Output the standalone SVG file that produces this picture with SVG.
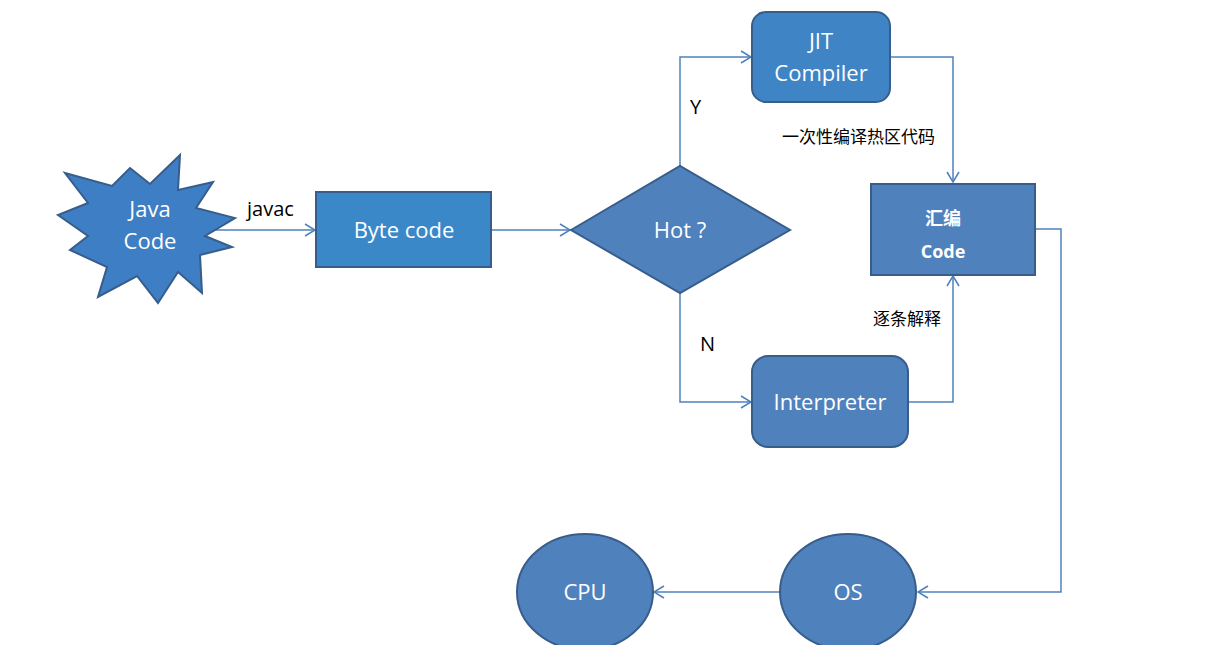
<svg xmlns="http://www.w3.org/2000/svg" width="1225" height="663" viewBox="0 0 1225 663">
<defs>
<style>
.node{fill:#4f81bd;stroke:#385d8a;stroke-width:2}
.lbl{fill:#ffffff;font-family:"Open Sans","Liberation Sans",sans-serif;font-size:22px;text-anchor:middle}
.blbl{fill:#ffffff;font-family:"Open Sans","Noto Sans CJK SC",sans-serif;font-size:18px;font-weight:bold;text-anchor:middle}
.edge{fill:none;stroke:#4f81bd;stroke-width:1.5}
.elbl{fill:#000000;font-family:"Open Sans","Liberation Sans",sans-serif;font-size:20px}
.cjk{fill:#000000;font-family:"Noto Sans CJK SC",sans-serif;font-size:17px}
</style>
<marker id="arr" markerWidth="14" markerHeight="14" refX="12" refY="7" orient="auto" markerUnits="userSpaceOnUse">
<polyline points="2,1 12,7 2,13" fill="none" stroke="#4f81bd" stroke-width="1.5"/>
</marker>
</defs>
<rect width="1225" height="663" fill="#ffffff"/>
<g id="connectors">
<line class="edge" x1="208" y1="230" x2="315" y2="230" marker-end="url(#arr)"/>
<line class="edge" x1="491" y1="230" x2="570" y2="230" marker-end="url(#arr)"/>
<polyline class="edge" points="680,166 680,57 751,57" marker-end="url(#arr)"/>
<polyline class="edge" points="890,57 953,57 953,182" marker-end="url(#arr)"/>
<polyline class="edge" points="680,293 680,402 751,402" marker-end="url(#arr)"/>
<polyline class="edge" points="908,402 953,402 953,276" marker-end="url(#arr)"/>
<polyline class="edge" points="1035,229 1061,229 1061,592 918,592" marker-end="url(#arr)"/>
<line class="edge" x1="780" y1="592" x2="654" y2="592" marker-end="url(#arr)"/>
<text class="elbl" x="247" y="216">javac</text>
<text class="elbl" x="690" y="114">Y</text>
<text class="elbl" x="700" y="351">N</text>
<text class="cjk" x="782" y="143">一次性编译热区代码</text>
<text class="cjk" x="873" y="325">逐条解释</text>
</g>
<g id="java-code">
<polygon class="node" style="fill:#3d7ec4" points="65,173 112,186 130,168 150,184 180,155 178,190 213,182 196,208 235,218 205,236 232,247 200,255 202,293 178,272 158,303 137,276 98,297 107,267 70,250 88,236 58,215 88,203"/>
<text class="lbl" x="150" y="217" font-size="21">Java</text>
<text class="lbl" x="150" y="249" font-size="21">Code</text>
</g>
<g id="byte-code">
<rect class="node" style="fill:#3b88c9" x="316" y="192" width="175" height="75"/>
<text class="lbl" x="404" y="238">Byte code</text>
</g>
<g id="hot">
<polygon class="node" points="571,230 680,166 790,230 680,293"/>
<text class="lbl" x="680" y="238">Hot ?</text>
</g>
<g id="jit">
<rect class="node" style="fill:#3f85c6" x="752" y="12" width="138" height="90" rx="14"/>
<text class="lbl" x="821" y="49">JIT</text>
<text class="lbl" x="821" y="81">Compiler</text>
</g>
<g id="asm-code">
<rect class="node" x="871" y="184" width="164" height="91"/>
<text class="blbl" x="943" y="225">汇编</text>
<text class="blbl" x="943" y="258">Code</text>
</g>
<g id="interpreter">
<rect class="node" x="752" y="356" width="156" height="91" rx="16"/>
<text class="lbl" x="830" y="410">Interpreter</text>
</g>
<g id="os">
<ellipse class="node" cx="848" cy="592" rx="68" ry="58"/>
<text class="lbl" x="848" y="600">OS</text>
</g>
<g id="cpu">
<ellipse class="node" cx="585" cy="592" rx="68" ry="58"/>
<text class="lbl" x="585" y="600">CPU</text>
</g>
<rect x="0" y="645" width="1225" height="18" fill="#ffffff"/>
</svg>
